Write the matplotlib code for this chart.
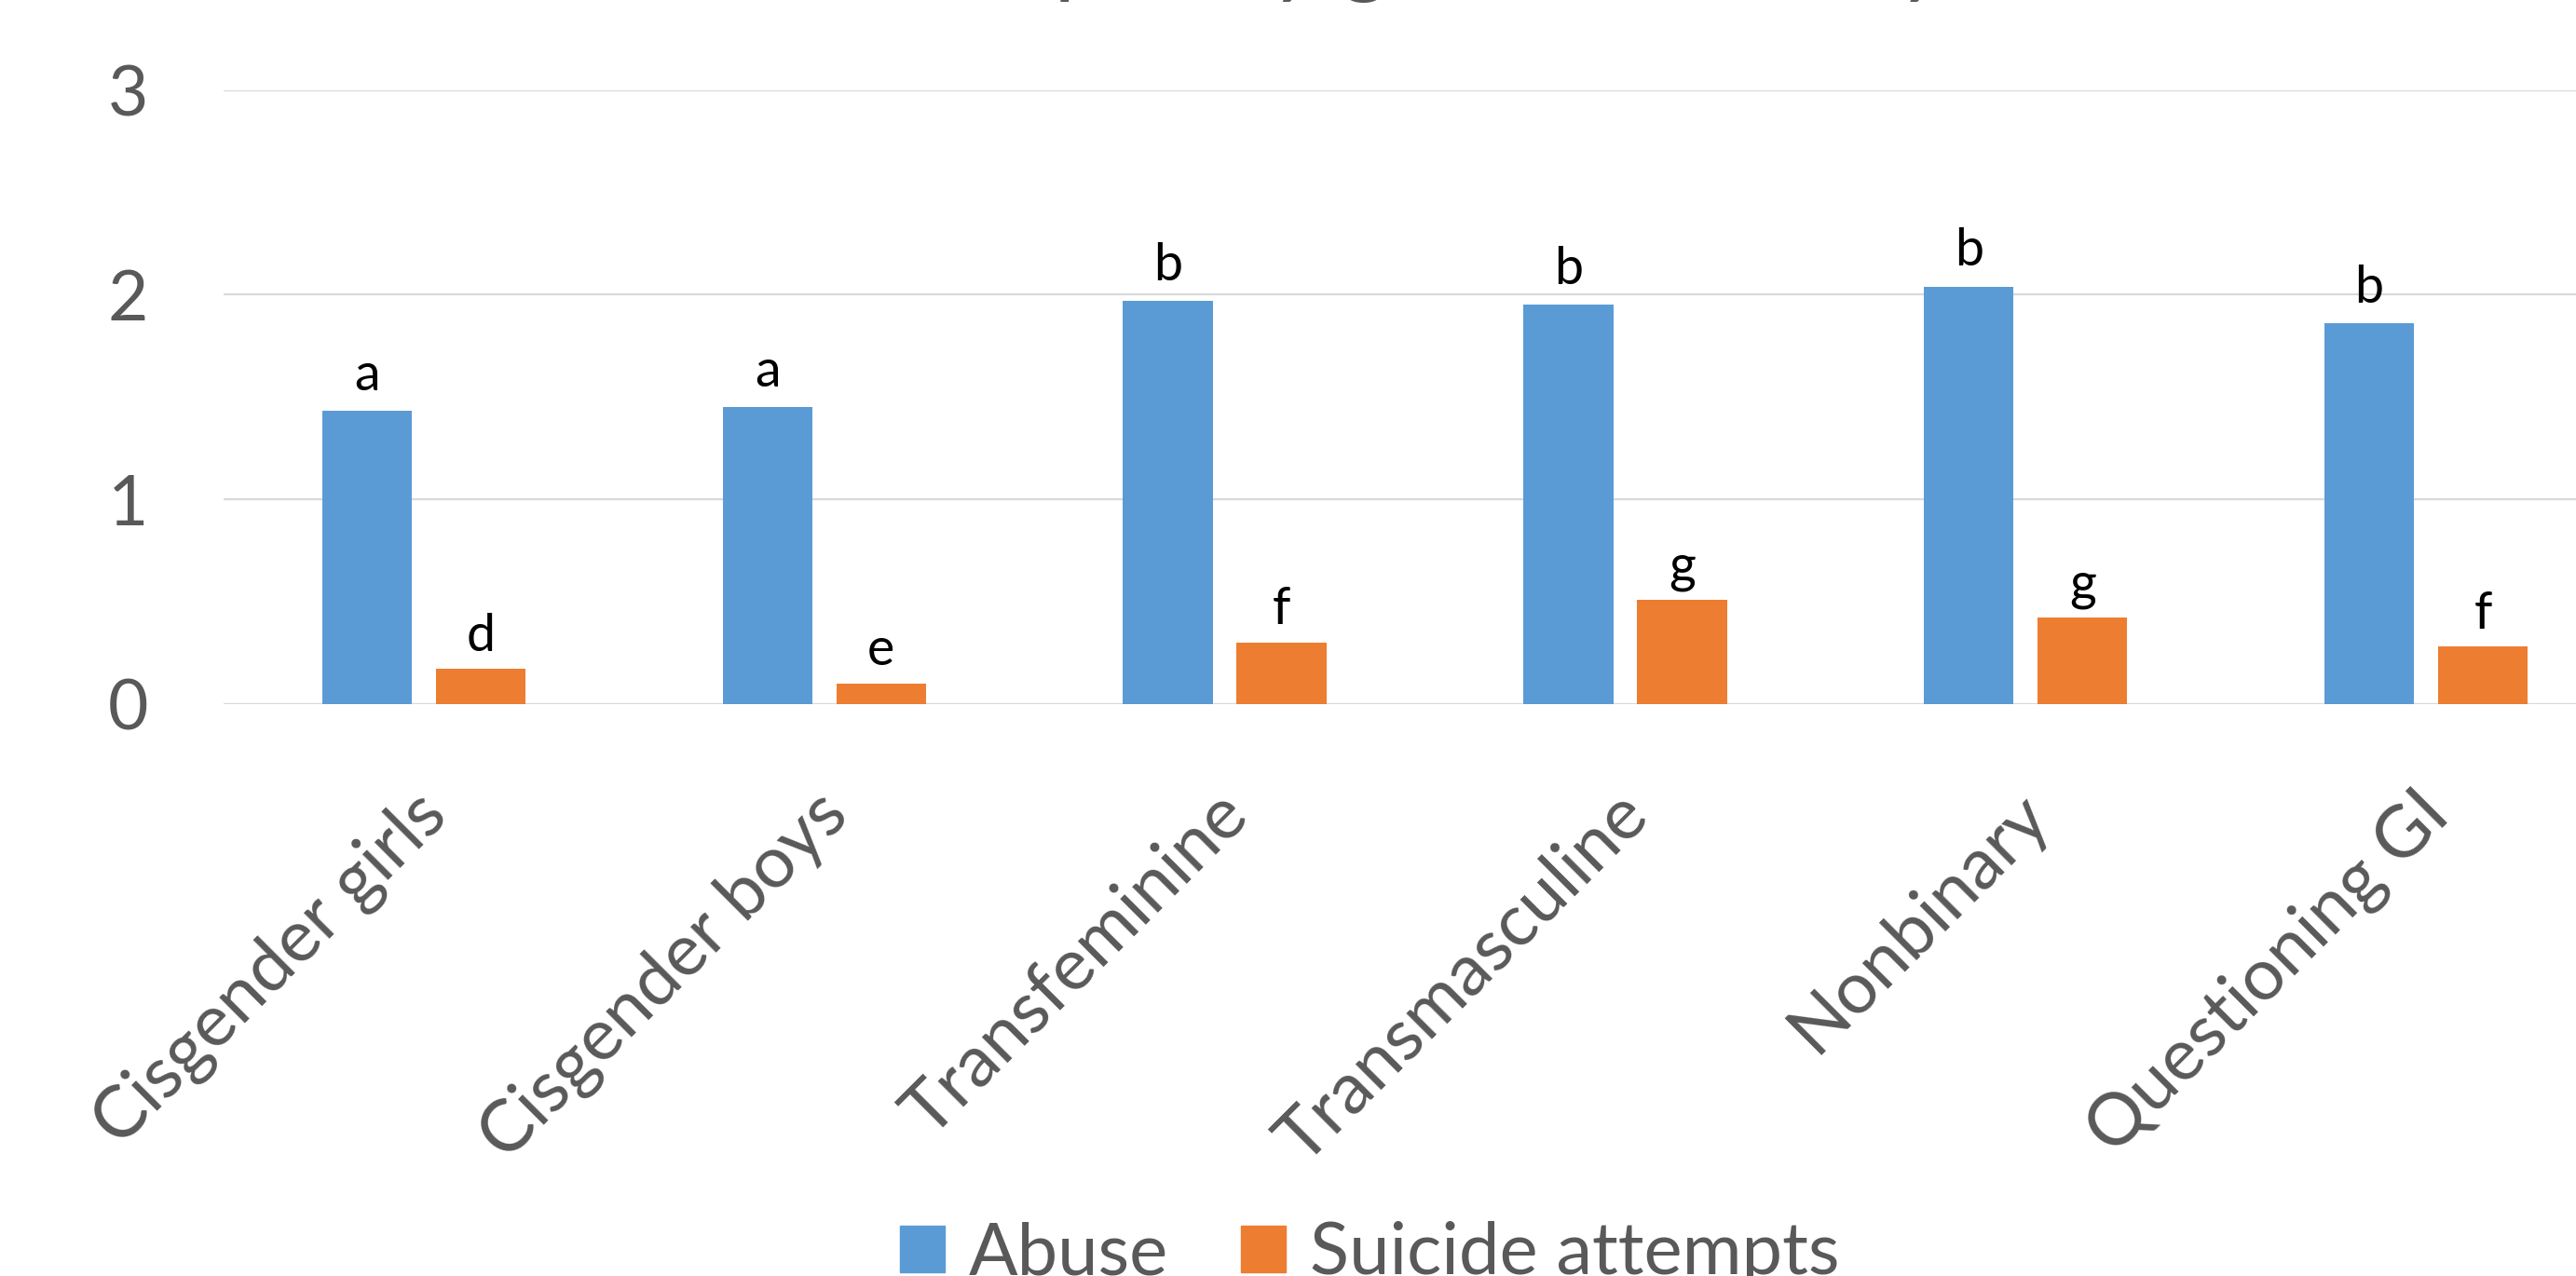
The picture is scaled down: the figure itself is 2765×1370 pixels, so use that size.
import numpy as np
import matplotlib
matplotlib.use("Agg")
import matplotlib.pyplot as plt
import matplotlib.transforms as mtransforms
from matplotlib.patches import Patch

plt.rcParams['font.family'] = ['Lato', 'DejaVu Sans']

categories = ["Cisgender girls", "Cisgender boys", "Transfeminine",
              "Transmasculine", "Nonbinary", "Questioning GI"]
abuse = [1.43, 1.45, 1.97, 1.95, 2.04, 1.86]
suicide = [0.17, 0.10, 0.30, 0.51, 0.42, 0.28]
abuse_letters = ["a", "a", "b", "b", "b", "b"]
suicide_letters = ["d", "e", "f", "g", "g", "f"]
yticks = [0, 1, 2, 3]
series_names = ["Abuse", "Suicide attempts"]
title_line = "attempts, by gender identity"

blue = "#5B9BD5"
orange = "#ED7D31"
grey = "#595959"

W, H = 2765, 1370
fig = plt.figure(figsize=(W / 100, H / 100), dpi=100)
# plot area runs past the right edge, like the cropped original
ax = fig.add_axes([240 / W, 1 - 755.5 / H, 2579 / W, (755.5 - 96.7) / H])

x = np.arange(len(categories))
bw = 0.224
off = 0.142
ax.bar(x - off, abuse, bw, color=blue, zorder=2)
ax.bar(x + off, suicide, bw, color=orange, zorder=2)

for i in range(len(categories)):
    ax.annotate(abuse_letters[i], (x[i] - off, abuse[i]), xytext=(0, 16),
                textcoords="offset points", ha="center", va="baseline",
                fontsize=40, color="black")
    ax.annotate(suicide_letters[i], (x[i] + off, suicide[i]), xytext=(0, 14),
                textcoords="offset points", ha="center", va="baseline",
                fontsize=40, color="black")

ax.set_xlim(-0.5, len(categories) - 0.5)
ax.set_ylim(0, 3)
ax.tick_params(axis="y", length=0, pad=58)
ax.tick_params(axis="x", length=0, pad=50)
ax.set_yticks(yticks)
ax.set_yticklabels([str(v) for v in yticks], fontsize=54, color=grey)
ax.set_xticks(x)
ax.set_xticklabels(categories, rotation=45, ha="right", va="top",
                   rotation_mode="anchor", fontsize=56, color=grey)
# nudge the slanted labels down-left a little
shift = mtransforms.ScaledTranslation(-0.12, -0.13, fig.dpi_scale_trans)
for lab in ax.get_xticklabels():
    lab.set_transform(lab.get_transform() + shift)
ax.yaxis.grid(True, color="#D9D9D9", linewidth=1.6, zorder=0)
ax.set_axisbelow(True)
for s in ax.spines.values():
    s.set_visible(False)

handles = [Patch(color=blue), Patch(color=orange)]
fig.legend(handles, series_names, loc="center left",
           bbox_to_anchor=(966 / W, 1 - 1347 / H), ncol=2, frameon=False,
           fontsize=56, labelcolor=grey, handlelength=0.62, handleheight=0.62,
           handletextpad=0.33, columnspacing=1.0, borderpad=0, borderaxespad=0)

# title mostly cropped off at the top, only descenders show
fig.text(2088 / W, 1 + 15 / H, title_line, ha="right", va="baseline",
         fontsize=70, color=grey)

fig.savefig("out.png", dpi=100)
